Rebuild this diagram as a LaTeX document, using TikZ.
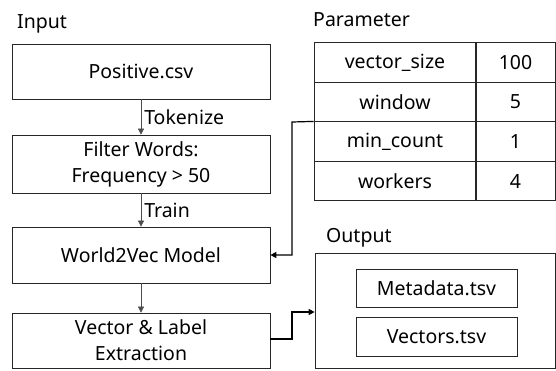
\documentclass[tikz,border=0pt]{standalone}
\usepackage{fontspec}
\setmainfont{Noto Sans}
\usetikzlibrary{arrows.meta,positioning}
\begin{document}
\begin{tikzpicture}[x=1pt,y=-1pt,
  txt/.style={font=\fontsize{19.5}{26}\selectfont},
  box/.style={txt,draw=black!85,line width=0.7pt,minimum width=258pt,align=center,inner sep=0pt},
  cell/.style={txt,draw=black!85,line width=0.7pt,inner sep=0pt},
  lbl/.style={txt,inner sep=0pt,anchor=base west},
  thin/.style={draw=black!70,line width=0.5pt,-{Triangle[length=6pt,width=6pt]}},
  thick/.style={draw=black,line width=1.2pt,-{Triangle[length=6pt,width=6pt]}}]
\useasboundingbox (0,0) rectangle (556,370);
% left column
\node[lbl] (input) at (17,28) {Input};
\node[box,minimum height=55pt] (pos) at (141,71.5) {Positive.csv};
\node[box,minimum height=58pt] (filt) at (141,164) {Filter Words:\\Frequency > 50};
\node[box,minimum height=56pt] (w2v) at (141,255) {World2Vec Model};
\node[box,minimum height=55pt] (vec) at (141,340.5) {Vector \& Label\\Extraction};
\draw[thin] (pos) -- node[txt,right=3pt,inner sep=0pt] (tok) {Tokenize} (filt);
\draw[thin] (filt) -- node[txt,right=3pt,inner sep=0pt] (trn) {Train} (w2v);
\draw[thin] (w2v) -- (vec);
% parameter table
\node[lbl] (param) at (313,26) {Parameter};
\node[cell,minimum width=162pt,minimum height=39.5pt] (k1) at (395,62.5) {vector\_size};
\node[cell,minimum width=80pt,minimum height=39.5pt] (v1) at (515.5,62.5) {100};
\node[cell,minimum width=162pt,minimum height=39.5pt] (k2) at (395,102) {window};
\node[cell,minimum width=80pt,minimum height=39.5pt] (v2) at (515.5,102) {5};
\node[cell,minimum width=162pt,minimum height=39.5pt] (k3) at (395,141.5) {min\_count};
\node[cell,minimum width=80pt,minimum height=39.5pt] (v3) at (515.5,141.5) {1};
\node[cell,minimum width=162pt,minimum height=39.5pt] (k4) at (395,181) {workers};
\node[cell,minimum width=80pt,minimum height=39.5pt] (v4) at (515.5,181) {4};
% output
\node[lbl] (outl) at (326,242) {Output};
\node[draw=black!85,line width=0.7pt,minimum width=240pt,minimum height=115pt,inner sep=0pt] (out) at (435,310.5) {};
\node[cell,minimum width=161pt,minimum height=38pt] (meta) at (436.5,288) {Metadata.tsv};
\node[cell,minimum width=161pt,minimum height=39pt] (vtsv) at (436.5,336.5) {Vectors.tsv};
% connectors
\coordinate (c1) at (292,122);
\coordinate (c2) at (292,255);
\draw[thick] (k3.north west) -- (c1) -- (c2) -- (w2v.east);
\coordinate (d1) at (292,339);
\coordinate (d2) at (292,312);
\draw[thick] (vec.east |- d1) -- (d1) -- (d2) -- (out.west |- d2);
\end{tikzpicture}
\end{document}
